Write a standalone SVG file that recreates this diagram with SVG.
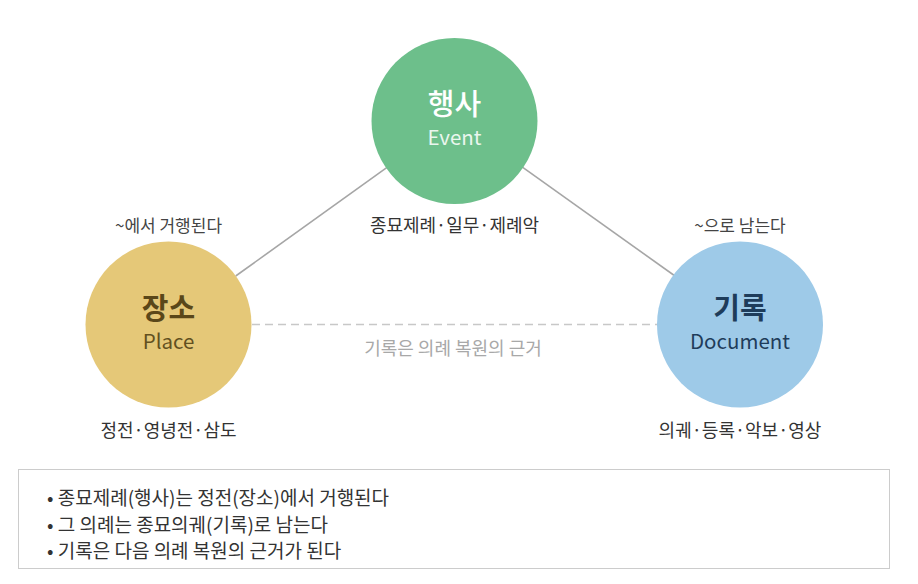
<svg xmlns="http://www.w3.org/2000/svg" width="918" height="584" viewBox="0 0 918 584">
<style>
text{font-family:"Noto Sans CJK KR","Noto Sans",sans-serif;text-anchor:middle}
.lbl{font-size:18px;fill:#333}
.sub{font-size:17px;fill:#444}
.ttl{font-size:29px;font-weight:700}
.en{font-size:20.5px}
.note{font-size:19px;fill:#333;text-anchor:start}
</style>
<rect width="918" height="584" fill="#fff"/>
<g id="connectors">
<line x1="386.7" y1="167.7" x2="235.7" y2="276" stroke="#a6a6a6" stroke-width="1.6"/>
<line x1="521.7" y1="166.7" x2="675" y2="276" stroke="#a6a6a6" stroke-width="1.6"/>
<line x1="252" y1="324.5" x2="657" y2="324.5" stroke="#c8c8c8" stroke-width="1.6" stroke-dasharray="8,5"/>
<text x="453" y="355" style="font-size:18px;fill:#a8a8a8">기록은 의례 복원의 근거</text>
</g>
<g id="event">
<circle cx="454.5" cy="121" r="83" fill="#6dbf8b"/>
<text x="454.5" y="115" class="ttl" fill="#fff" style="font-weight:500">행사</text>
<text x="454.5" y="145" class="en" fill="#eaf6ee">Event</text>
<text x="454.5" y="232" class="lbl">종묘제례·일무·제례악</text>
</g>
<g id="place">
<circle cx="168.5" cy="324.5" r="83" fill="#e5c878"/>
<text x="168.5" y="319" class="ttl" fill="#5a4719">장소</text>
<text x="168.5" y="349" class="en" fill="#62501f">Place</text>
<text x="168.5" y="232" class="sub">~에서 거행된다</text>
<text x="168.5" y="437" class="lbl">정전·영녕전·삼도</text>
</g>
<g id="document">
<circle cx="740" cy="324.5" r="83" fill="#9ecae8"/>
<text x="740" y="319" class="ttl" fill="#1e3c5a">기록</text>
<text x="740" y="349" class="en" fill="#1e3c5a">Document</text>
<text x="740" y="232" class="sub">~으로 남는다</text>
<text x="740" y="437" class="lbl">의궤·등록·악보·영상</text>
</g>
<g id="summary">
<rect x="18.5" y="469.5" width="871" height="99" fill="#fff" stroke="#cccccc" stroke-width="1"/>
<text x="47" y="505" class="note">• 종묘제례(행사)는 정전(장소)에서 거행된다</text>
<text x="47" y="532" class="note">• 그 의례는 종묘의궤(기록)로 남는다</text>
<text x="47" y="558" class="note">• 기록은 다음 의례 복원의 근거가 된다</text>
</g>
</svg>
